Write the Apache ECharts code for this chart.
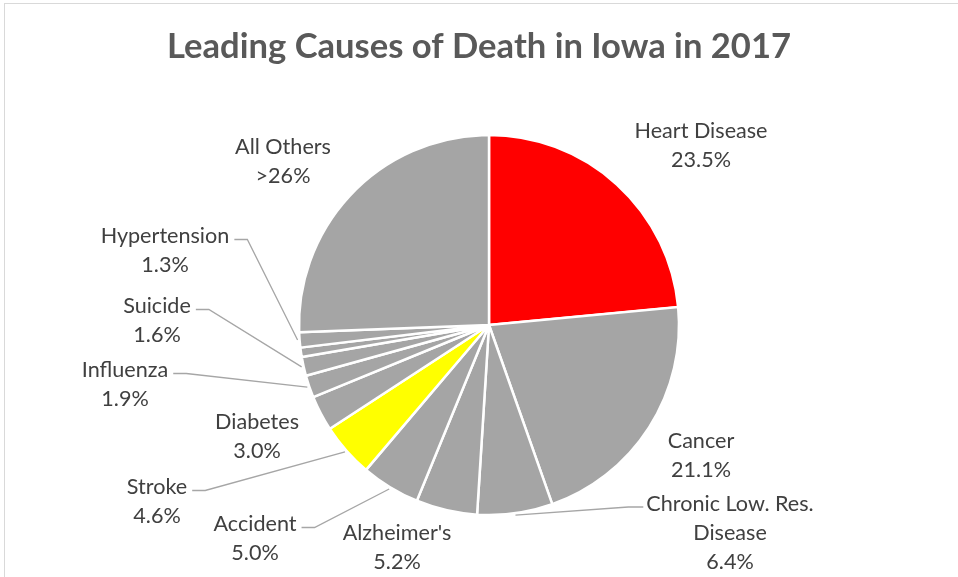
<!DOCTYPE html>
<html><head><meta charset="utf-8">
<script src="https://cdn.jsdelivr.net/npm/echarts@6/dist/echarts.min.js"></script>
<style>
html,body{margin:0;padding:0;background:#fff;overflow:hidden;width:958px;height:577px}
#frame{position:absolute;left:4px;top:3px;width:1000px;height:700px;border:1px solid #d9d9d9;box-sizing:border-box}
#chart{position:absolute;left:0;top:0;width:958px;height:577px}
</style></head><body>
<div id="frame"></div><div id="chart"></div>
<script>
// ---- data ----
const categories = ['Heart Disease', 'Cancer', 'Chronic Low. Res.\nDisease', "Alzheimer's", 'Accident', 'Stroke', 'Diabetes', 'Influenza', 'Suicide', '', 'Hypertension', 'All Others'];
const values = [23.5, 21.1, 6.4, 5.2, 5.0, 4.6, 3.0, 1.9, 1.6, 0.8, 1.3, 25.6];
const valueLabels = ['23.5%', '21.1%', '6.4%', '5.2%', '5.0%', '4.6%', '3.0%', '1.9%', '1.6%', '', '1.3%', '>26%'];
const titleText = 'Leading Causes of Death in Iowa in 2017';

// ---- layout / style ----
const sliceColors = ['#FF0000', '#A5A5A5', '#A5A5A5', '#A5A5A5', '#A5A5A5', '#FFFF00', '#A5A5A5', '#A5A5A5', '#A5A5A5', '#A5A5A5', '#A5A5A5', '#A5A5A5'];
const labelCenters = [[701, 146], [701, 456], [730, 533], [397, 548], [255, 539], [157, 502], [257, 437], [125, 385], [157, 321], null, [165, 251], [283, 162]];
const leaderSide = [null, null, 'L', null, 'R', 'R', null, 'R', 'R', null, 'R', null];
const CX = 489, CY = 325, RADIUS = 190, LINE_H = 29;

const total = values.reduce((a, b) => a + b, 0);
function anchorPoint(i) {
  let before = 0;
  for (let k = 0; k < i; k++) before += values[k];
  const mid = (before + values[i] / 2) / total * Math.PI * 2;
  const R = RADIUS + 2;
  return [CX + R * Math.sin(mid), CY - R * Math.cos(mid)];
}

const chart = echarts.init(document.getElementById('chart'), null, {renderer: 'canvas'});
chart.setOption({
  animation: false,
  backgroundColor: 'transparent',
  title: {
    text: titleText, left: 'center', top: 24,
    textStyle: {fontFamily: 'Lato', fontWeight: 'bold', fontSize: 34.6, color: '#595959'}
  },
  series: [{
    type: 'pie',
    center: [CX, CY],
    radius: RADIUS,
    startAngle: 90,
    clockwise: true,
    avoidLabelOverlap: false,
    emphasis: {disabled: true},
    itemStyle: {borderColor: '#fff', borderWidth: 2.5},
    label: {
      show: true, position: 'outside', alignTo: 'none',
      fontFamily: 'Lato', fontSize: 21.6, color: '#404040', lineHeight: LINE_H, align: 'center',
      formatter: p => categories[p.dataIndex] + '\n' + valueLabels[p.dataIndex]
    },
    labelLine: {show: false, lineStyle: {color: '#A6A6A6', width: 1.3}},
    labelLayout: function (params) {
      const i = params.dataIndex;
      const c = labelCenters[i];
      if (!c) return {};
      const r = params.labelRect;
      const res = {x: c[0], y: c[1], align: 'center', verticalAlign: 'middle'};
      const side = leaderSide[i];
      if (side) {
        const left = c[0] - r.width / 2, right = c[0] + r.width / 2, top = c[1] - r.height / 2;
        const ly = top + LINE_H / 2 + 3;
        const endX = side === 'R' ? right + 5 : left - 3;
        const elbowX = side === 'R' ? endX + 13 : endX - 15;
        res.labelLinePoints = [anchorPoint(i), [elbowX, ly], [endX, ly]];
      }
      return res;
    },
    data: values.map((v, i) => ({
      name: categories[i] || ('slice' + i),
      value: v,
      itemStyle: {color: sliceColors[i]},
      label: {show: !!categories[i]},
      labelLine: {show: !!leaderSide[i]}
    }))
  }]
});
</script>
</body></html>
